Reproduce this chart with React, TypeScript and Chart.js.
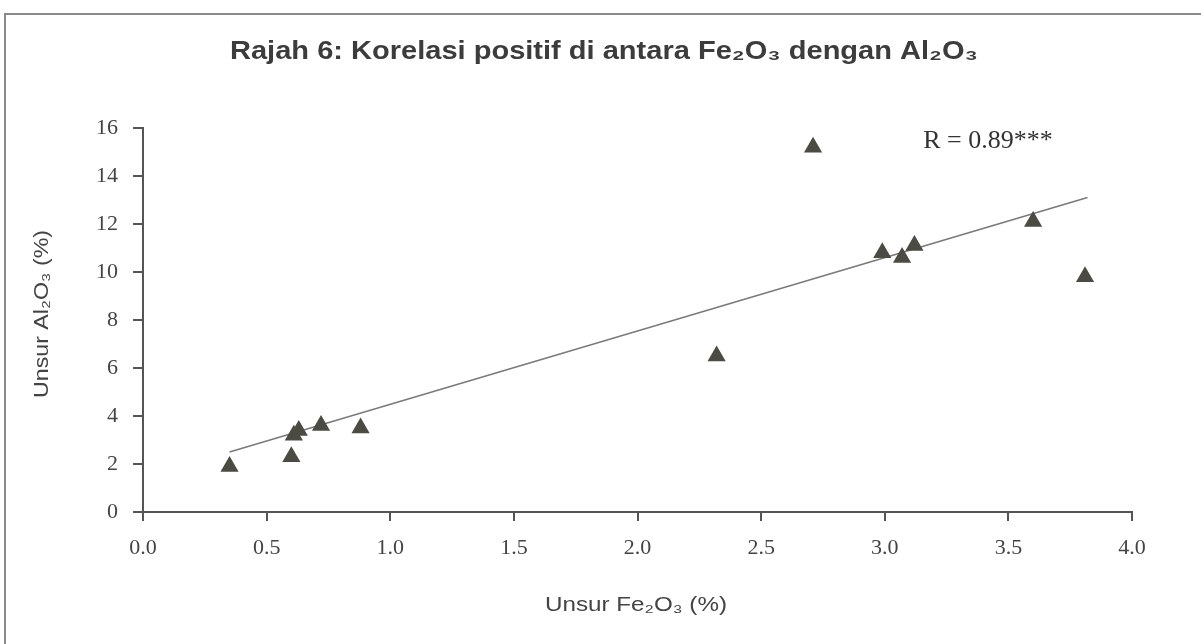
import React, { useEffect, useRef } from "react";
import { Chart, registerables } from "chart.js";

Chart.register(...registerables);

const titleText = "Rajah 6: Korelasi positif di antara Fe₂O₃ dengan Al₂O₃";
const xAxisTitle = "Unsur Fe₂O₃ (%)";
const yAxisTitle = "Unsur Al₂O₃ (%)";
const annotationText = "R = 0.89***";

const fe2o3 = [0.35, 0.6, 0.61, 0.63, 0.72, 0.88, 2.32, 2.71, 2.99, 3.07, 3.12, 3.6, 3.81];
const al2o3 = [1.9, 2.3, 3.2, 3.4, 3.6, 3.5, 6.5, 15.2, 10.8, 10.6, 11.1, 12.1, 9.8];

const trendX = [0.35, 3.82];
const trendY = [2.5, 13.1];

const xMin = 0;
const xMax = 4;
const xStep = 0.5;
const yMin = 0;
const yMax = 16;
const yStep = 2;

function drawStretched(ctx: any, text: string, cx: number, cy: number, font: string, targetWidth: number, rotate = 0) {
  ctx.save();
  ctx.font = font;
  const w = ctx.measureText(text).width;
  ctx.translate(cx, cy);
  if (rotate) ctx.rotate(rotate);
  ctx.scale(targetWidth / w, 1);
  ctx.textAlign = "center";
  ctx.textBaseline = "middle";
  ctx.fillText(text, 0, 0);
  ctx.restore();
}

const frameAndText = {
  id: "frameAndText",
  beforeDraw(chart: any) {
    const ctx = chart.ctx;
    ctx.save();
    ctx.strokeStyle = "#8a8a8a";
    ctx.lineWidth = 2;
    ctx.beginPath();
    ctx.moveTo(5, chart.height);
    ctx.lineTo(5, 14);
    ctx.lineTo(chart.width, 14);
    ctx.stroke();
    ctx.restore();
  },
  afterDraw(chart: any) {
    const ctx = chart.ctx;
    ctx.save();
    ctx.fillStyle = "#3c3c3c";
    drawStretched(ctx, titleText, 604, 52, "bold 26px 'Liberation Sans', Arial, sans-serif", 748);
    ctx.fillStyle = "#444";
    drawStretched(ctx, xAxisTitle, 636, 605, "20px 'Liberation Sans', Arial, sans-serif", 182);
    drawStretched(ctx, yAxisTitle, 42, 314, "20px 'Liberation Sans', Arial, sans-serif", 168, -Math.PI / 2);
    ctx.fillStyle = "#333";
    ctx.font = "26px 'Liberation Serif', serif";
    ctx.textAlign = "center";
    ctx.textBaseline = "middle";
    ctx.fillText(annotationText, 988, 141);
    ctx.restore();
  },
};

export default function App() {
  const ref = useRef<HTMLCanvasElement | null>(null);

  useEffect(() => {
    if (!ref.current) return;
    const points = fe2o3.map((x, i) => ({ x, y: al2o3[i] }));
    const trend = trendX.map((x, i) => ({ x, y: trendY[i] }));
    const chart = new Chart(ref.current, {
      type: "scatter",
      data: {
        datasets: [
          {
            label: "data",
            data: points,
            pointStyle: "triangle",
            pointRadius: 10.5,
            pointBackgroundColor: "#4b4b44",
            pointBorderColor: "#4b4b44",
            pointBorderWidth: 0,
            order: 0,
          },
          {
            label: "trend",
            type: "line",
            data: trend,
            showLine: true,
            borderColor: "#7a7a7a",
            borderWidth: 1.6,
            pointRadius: 0,
            fill: false,
            order: 1,
          } as any,
        ],
      },
      options: {
        responsive: false,
        animation: false,
        layout: { padding: { left: 0, right: 69, top: 128, bottom: 0 } },
        plugins: {
          legend: { display: false },
          tooltip: { enabled: false },
          title: { display: false },
        },
        scales: {
          x: {
            type: "linear",
            min: xMin,
            max: xMax,
            afterFit: (s: any) => {
              s.height = 132;
            },
            ticks: {
              stepSize: xStep,
              maxRotation: 0,
              autoSkip: false,
              padding: 14,
              color: "#444",
              font: { family: "'Liberation Serif', serif", size: 22 },
              callback: (v: any) => Number(v).toFixed(1),
            },
            grid: { drawOnChartArea: false, drawTicks: true, tickLength: 9, color: "#555", lineWidth: 2 },
            border: { display: true, color: "#555", width: 2 },
            title: { display: false },
          },
          y: {
            type: "linear",
            min: yMin,
            max: yMax,
            afterFit: (s: any) => {
              s.width = 143;
            },
            ticks: {
              stepSize: yStep,
              padding: 15,
              color: "#444",
              font: { family: "'Liberation Serif', serif", size: 22 },
            },
            grid: { drawOnChartArea: false, drawTicks: true, tickLength: 10, color: "#555", lineWidth: 2 },
            border: { display: true, color: "#555", width: 2 },
            title: { display: false },
          },
        },
      },
      plugins: [frameAndText],
    });
    return () => chart.destroy();
  }, []);

  return (
    <div style={{ position: "absolute", left: 0, top: 0, width: 1201, height: 644, background: "#fff" }}>
      <canvas ref={ref} width={1201} height={644} style={{ width: 1201, height: 644, display: "block" }} />
    </div>
  );
}
